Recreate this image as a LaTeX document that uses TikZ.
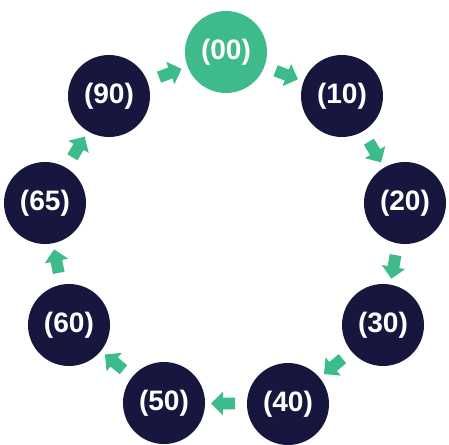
\documentclass[tikz,border=0pt]{standalone}
\usepackage{fontspec}
\setmainfont{Liberation Sans}
\usetikzlibrary{shapes, shapes.arrows, positioning, calc}
\definecolor{stagenavy}{HTML}{16163F}
\definecolor{stagegreen}{HTML}{3DBB8A}

\begin{document}
\begin{tikzpicture}[
    stage/.style={circle, fill=stagenavy, text=white, minimum size=2.05cm,
                  inner sep=0pt, font=\fontsize{20}{24}\selectfont\bfseries},
    startstage/.style={stage, fill=stagegreen},
    flow/.style={single arrow, fill=stagegreen, draw=none, inner sep=1.4mm,
                 minimum height=6mm, single arrow head extend=1.5mm,
                 sloped, allow upside down}
]
\useasboundingbox (0,0) rectangle (11.225,11.1);

\node[startstage] (n00) at (5.65, 9.8) {(00)};
\node[stage] (n10) at (8.55, 8.7) {(10)};
\node[stage] (n20) at (10.125, 6.025) {(20)};
\node[stage] (n30) at (9.575, 2.975) {(30)};
\node[stage] (n40) at (7.2, 1.0) {(40)};
\node[stage] (n50) at (4.1, 1.025) {(50)};
\node[stage] (n60) at (1.725, 2.975) {(60)};
\node[stage] (n65) at (1.125, 6.025) {(65)};
\node[stage] (n90) at (2.725, 8.7) {(90)};

% arrows clockwise round the ring
\path (n90) -- node[flow] {} (n00);
\path (n00) -- node[flow] {} (n10);
\path (n10) -- node[flow] {} (n20);
\path (n20) -- node[flow] {} (n30);
\path (n30) -- node[flow] {} (n40);
\path (n40) -- node[flow] {} (n50);
\path (n50) -- node[flow] {} (n60);
\path (n60) -- node[flow] {} (n65);
\path (n65) -- node[flow] {} (n90);
\end{tikzpicture}
\end{document}
